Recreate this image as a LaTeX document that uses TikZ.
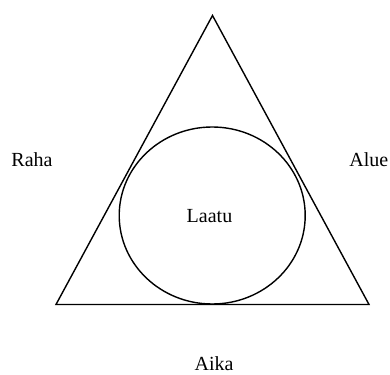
\documentclass[tikz,border=0pt]{standalone}
\usepackage{fontspec}
\setmainfont{Liberation Serif}
\begin{document}
\begin{tikzpicture}[x=1pt,y=-1pt,
  shape line/.style={line width=1.4pt,black},
  lbl/.style={anchor=base,inner sep=0pt,font=\fontsize{20}{24}\selectfont}]
\useasboundingbox (0,0) rectangle (390,374);
\coordinate (top) at (212.5,15.5);
\coordinate (bl) at (56,304.5);
\coordinate (br) at (369,304.5);
\draw[shape line,line join=miter] (top) -- (bl) -- (br) -- cycle;
\draw[shape line] (212.2,215.5) ellipse [x radius=93,y radius=88.5];
\node[lbl] (raha) at (32,166.7) {Raha};
\node[lbl] (alue) at (368.8,166.7) {Alue};
\node[lbl] (laatu) at (209.5,222.7) {Laatu};
\node[lbl] (aika) at (214,370.5) {Aika};
\end{tikzpicture}
\end{document}
